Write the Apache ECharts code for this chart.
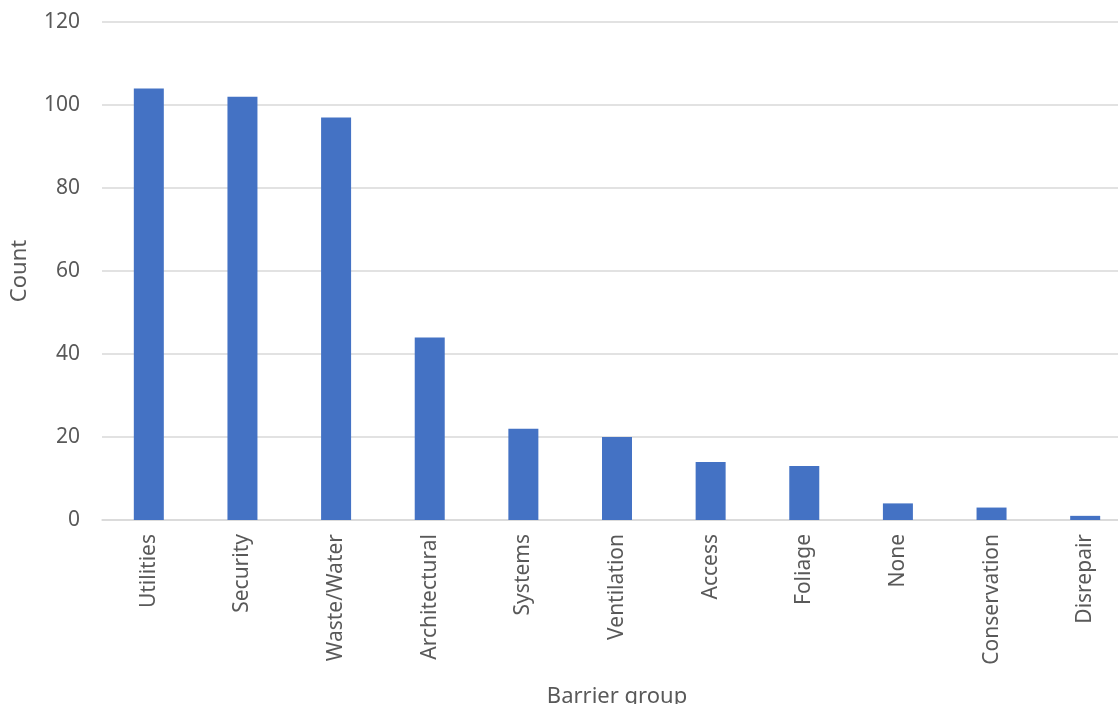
<!DOCTYPE html>
<html>
<head>
<meta charset="utf-8">
<script src="https://cdn.jsdelivr.net/npm/echarts@6/dist/echarts.min.js"></script>
<style>
  html, body { margin: 0; padding: 0; background: #ffffff; }
  #chart { width: 1118px; height: 704px; }
</style>
</head>
<body>
<div id="chart"></div>
<script>
// Barrier groups and their counts
const categories = ['Utilities', 'Security', 'Waste/Water', 'Architectural', 'Systems',
  'Ventilation', 'Access', 'Foliage', 'None', 'Conservation', 'Disrepair'];
const counts = [104, 102, 97, 44, 22, 20, 14, 13, 4, 3, 1];
const yTicks = { min: 0, max: 120, interval: 20 };

const textColor = '#595959';
const gridColor = '#d9d9d9';
const fontFamily = '"Noto Sans", sans-serif';

const chart = echarts.init(document.getElementById('chart'), null, { renderer: 'canvas' });
chart.setOption({
  animation: false,
  backgroundColor: '#ffffff',
  grid: { left: 102, right: -14, top: 22, bottom: 184, containLabel: false, outerBoundsMode: 'none' },
  xAxis: {
    type: 'category',
    data: categories,
    name: 'Barrier group',
    nameLocation: 'middle',
    nameGap: 166,
    nameTextStyle: { color: textColor, fontSize: 22, fontFamily },
    axisLine: { lineStyle: { color: gridColor, width: 1.5 } },
    axisTick: { show: false },
    axisLabel: { rotate: 90, color: textColor, fontSize: 21, fontFamily, margin: 14, interval: 0 }
  },
  yAxis: {
    type: 'value',
    min: yTicks.min,
    max: yTicks.max,
    interval: yTicks.interval,
    name: 'Count',
    nameLocation: 'middle',
    nameGap: 71,
    nameTextStyle: { color: textColor, fontSize: 22, fontFamily },
    axisLine: { show: false },
    axisTick: { show: false },
    axisLabel: { color: textColor, fontSize: 21, fontFamily, margin: 22 },
    splitLine: { lineStyle: { color: gridColor, width: 1.5 } }
  },
  series: [{
    type: 'bar',
    data: counts,
    barWidth: 30,
    itemStyle: { color: '#4472c4' }
  }]
});
</script>
</body>
</html>
